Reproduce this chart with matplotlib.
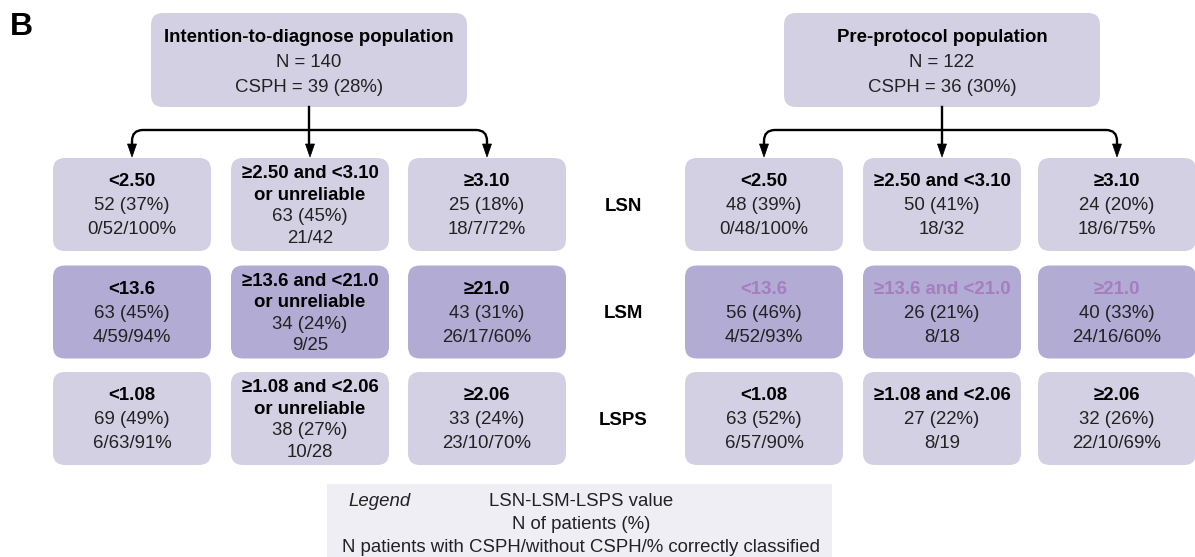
import matplotlib
matplotlib.use("Agg")
import matplotlib.pyplot as plt
from matplotlib.patches import FancyBboxPatch, Rectangle, Polygon
from matplotlib.path import Path
from matplotlib.patches import PathPatch

plt.rcParams['font.family'] = ['Liberation Sans', 'DejaVu Sans']

# ---- data ----
headers = [["Intention-to-diagnose population", "N = 140", "CSPH = 39 (28%)"],
           ["Pre-protocol population", "N = 122", "CSPH = 36 (30%)"]]
row_names = ["LSN", "LSM", "LSPS"]

itd_cuts = [["<2.50", "≥2.50 and <3.10\nor unreliable", "≥3.10"],
            ["<13.6", "≥13.6 and <21.0\nor unreliable", "≥21.0"],
            ["<1.08", "≥1.08 and <2.06\nor unreliable", "≥2.06"]]
itd_n = [[52, 63, 25], [63, 34, 43], [69, 38, 33]]
itd_pct = [[37, 45, 18], [45, 24, 31], [49, 27, 24]]
itd_cls = [[(0, 52, 100), (21, 42), (18, 7, 72)],
           [(4, 59, 94), (9, 25), (26, 17, 60)],
           [(6, 63, 91), (10, 28), (23, 10, 70)]]

pp_cuts = [["<2.50", "≥2.50 and <3.10", "≥3.10"],
           ["<13.6", "≥13.6 and <21.0", "≥21.0"],
           ["<1.08", "≥1.08 and <2.06", "≥2.06"]]
pp_n = [[48, 50, 24], [56, 26, 40], [63, 27, 32]]
pp_pct = [[39, 41, 20], [46, 21, 33], [52, 22, 26]]
pp_cls = [[(0, 48, 100), (18, 32), (18, 6, 75)],
          [(4, 52, 93), (8, 18), (24, 16, 60)],
          [(6, 57, 90), (8, 19), (22, 10, 69)]]

legend_lines = ["LSN-LSM-LSPS value", "N of patients (%)",
                "N patients with CSPH/without CSPH/% correctly classified"]

# ---- layout (pixel units) ----
W, H = 1195, 557
light = "#D4D0E4"
dark = "#B2ABD3"
purple_txt = "#A57DC0"
fs = 13.4

col_x = [[132, 310, 487], [764, 942, 1117]]
head_x = [309, 942]
row_y = [204.5, 312, 418.5]
bw, bh = 158, 93
head_w, head_h = 316, 94
head_top = 13
arrow_y = 130
box_top = row_y[0] - bh / 2

fig = plt.figure(figsize=(W / 100, H / 100), dpi=100)
ax = fig.add_axes([0, 0, 1, 1])
ax.set_xlim(0, W)
ax.set_ylim(H, 0)
ax.axis("off")


def rbox(cx, cy, w, h, color):
    ax.add_patch(FancyBboxPatch((cx - w / 2, cy - h / 2), w, h,
                                boxstyle="round,pad=0,rounding_size=12",
                                fc=color, ec="none", zorder=1))


def lines_in_box(cx, cy, lines, weights, colors, spacing):
    n = len(lines)
    for i, (t, wgt, c) in enumerate(zip(lines, weights, colors)):
        y = cy + (i - (n - 1) / 2) * spacing + 1.5
        ax.text(cx, y, t, ha="center", va="center", fontsize=fs,
                fontweight=wgt, color=c, zorder=3)


def cls_text(t):
    s = "/".join(str(v) for v in t)
    return s + "%" if len(t) == 3 else s


panels = [(itd_cuts, itd_n, itd_pct, itd_cls), (pp_cuts, pp_n, pp_pct, pp_cls)]

for p, (cuts, ns, pcts, clss) in enumerate(panels):
    # header box
    hx = head_x[p]
    rbox(hx, head_top + head_h / 2, head_w, head_h, light)
    hy = head_top + head_h / 2
    for i, t in enumerate(headers[p]):
        ax.text(hx, hy + (i - 1) * 25.5 + 2.5, t, ha="center", va="center",
                fontsize=fs, fontweight="bold" if i == 0 else "normal",
                color="black" if i == 0 else "#222222", zorder=3)

    # connectors
    xs = col_x[p]
    r = 11
    head_len = 13
    tip = box_top - 1
    verts = [(xs[0], tip - head_len), (xs[0], arrow_y + r), (xs[0], arrow_y),
             (xs[0] + r, arrow_y), (xs[2] - r, arrow_y), (xs[2], arrow_y),
             (xs[2], arrow_y + r), (xs[2], tip - head_len)]
    codes = [Path.MOVETO, Path.LINETO, Path.CURVE3, Path.CURVE3,
             Path.LINETO, Path.CURVE3, Path.CURVE3, Path.LINETO]
    ax.add_patch(PathPatch(Path(verts, codes), fc="none", ec="black", lw=1.7, zorder=2))
    ax.plot([hx, hx], [head_top + head_h, tip - head_len], color="black", lw=1.7, zorder=2)
    for x in xs:
        ax.add_patch(Polygon([(x - 4.5, tip - head_len), (x + 4.5, tip - head_len), (x, tip)],
                             closed=True, fc="black", ec="black", lw=0.5, zorder=2))

    # category boxes
    for ri in range(3):
        for ci in range(3):
            cx, cy = xs[ci], row_y[ri]
            rbox(cx, cy, bw, bh, dark if ri == 1 else light)
            title = cuts[ri][ci].split("\n")
            lines = title + ["%d (%d%%)" % (ns[ri][ci], pcts[ri][ci]), cls_text(clss[ri][ci])]
            weights = ["bold"] * len(title) + ["normal", "normal"]
            tcol = purple_txt if (p == 1 and ri == 1) else "black"
            colors = [tcol] * len(title) + ["#222222", "#222222"]
            spacing = 24 if len(lines) == 3 else 21.5
            lines_in_box(cx, cy, lines, weights, colors, spacing)

# row labels
for ri, name in enumerate(row_names):
    ax.text(623, row_y[ri] + 2, name, ha="center", va="center",
            fontsize=fs, fontweight="bold")

# panel letter
ax.text(10, 27, "B", ha="left", va="center", fontsize=23, fontweight="bold")

# legend box
ax.add_patch(Rectangle((327, 484), 505, 80, fc="#EFEEF4", ec="none", zorder=1))
ax.text(380, 502, "Legend", ha="center", va="center", fontsize=fs, style="italic",
        color="#222222")
for i, t in enumerate(legend_lines):
    ax.text(581, 502 + i * 22.5, t, ha="center", va="center", fontsize=fs,
            color="#222222")

fig.savefig("out.png", dpi=100)
